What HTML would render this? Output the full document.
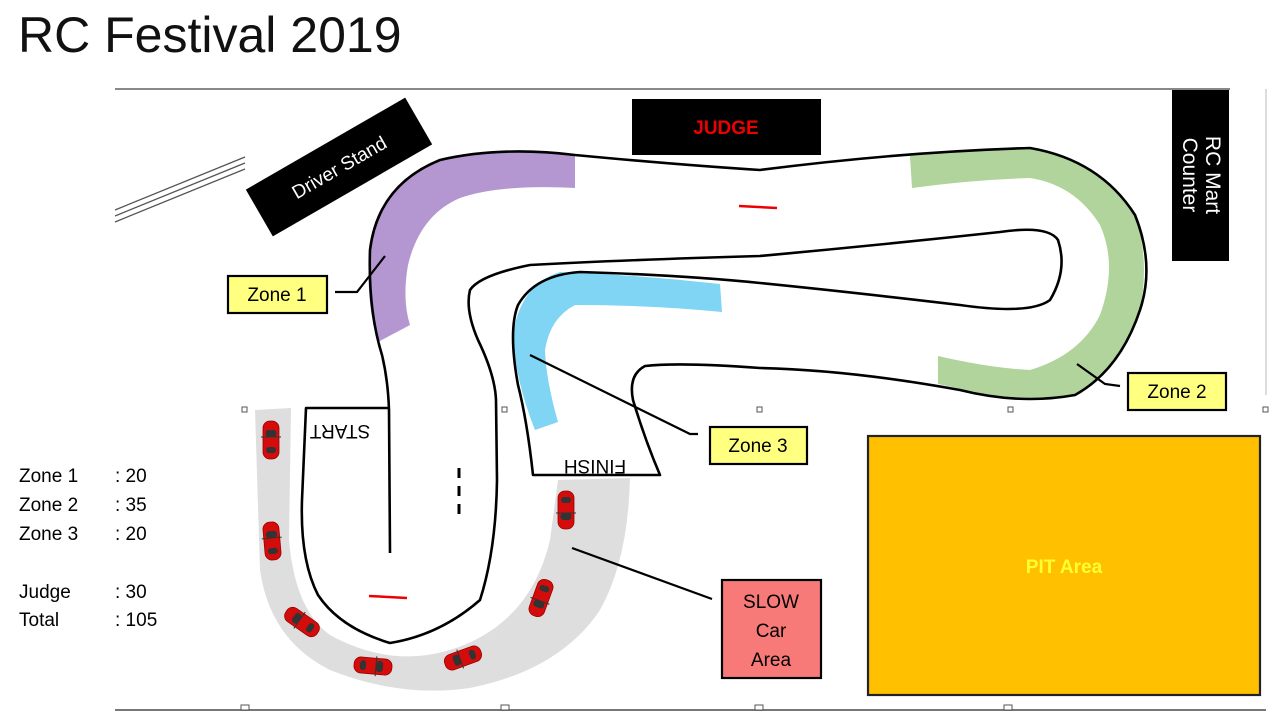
<!DOCTYPE html>
<html><head><meta charset="utf-8"><style>
html,body{margin:0;padding:0;background:#fff;}
svg{display:block;font-family:"Liberation Sans",sans-serif;}
</style></head><body>
<svg width="1280" height="720" viewBox="0 0 1280 720" xmlns="http://www.w3.org/2000/svg">
<text x="18" y="52" font-size="50" fill="#111">RC Festival 2019</text>
<!-- frame -->
<line x1="115" y1="89" x2="1230" y2="89" stroke="#888" stroke-width="2"/>
<line x1="1266" y1="89" x2="1266" y2="395" stroke="#bbb" stroke-width="1"/>
<line x1="115" y1="710" x2="1266" y2="710" stroke="#777" stroke-width="2"/>
<g fill="#fff" stroke="#555" stroke-width="1">
<rect x="242" y="407" width="5" height="5"/><rect x="502" y="407" width="5" height="5"/><rect x="757" y="407" width="5" height="5"/><rect x="1008" y="407" width="5" height="5"/><rect x="1263" y="407" width="5" height="5"/>
<rect x="241" y="705" width="8" height="5"/><rect x="501" y="705" width="8" height="5"/><rect x="755" y="705" width="8" height="5"/><rect x="1004" y="705" width="8" height="5"/>
</g>
<!-- triple lines -->
<g stroke="#555" stroke-width="1.3">
<line x1="115" y1="210" x2="245" y2="157"/><line x1="115" y1="216" x2="245" y2="163"/><line x1="115" y1="222" x2="245" y2="169"/>
</g>
<!-- slow area -->
<path d="M255,410 L291,408 L289,540 Q295,610 330,635 Q390,668 450,650 Q530,625 550,540 L558,480 L630,478 Q628,560 600,610 Q560,670 470,688 Q400,698 330,670 Q270,640 260,570 Z" fill="#dedede"/>
<!-- zones -->
<path d="M378,342 Q365,300 370,250 Q380,185 440,160 Q500,148 575,155 L575,188 Q500,184 460,198 Q420,215 408,265 Q402,300 410,325 Z" fill="#b497d0"/>
<path d="M910,156 Q970,150 1030,148 Q1100,160 1135,215 Q1150,260 1140,310 Q1120,370 1075,395 Q1020,405 980,393 L938,384 L938,356 Q990,368 1030,370 Q1080,355 1100,315 Q1118,265 1100,225 Q1075,185 1030,178 Q970,180 912,188 Z" fill="#b0d49c"/>
<path d="M720,284 Q640,275 560,272 Q520,285 513,335 Q515,380 535,430 L558,422 Q546,380 545,350 Q550,318 575,305 Q650,305 722,312 Z" fill="#80d4f4"/>
<!-- track lines -->
<g fill="none" stroke="#000" stroke-width="2.6" stroke-linejoin="round">
<path d="M390,553 L389,410 Q388,380 382,355 Q368,310 370,250 Q378,185 440,160 Q500,146 575,155 Q680,165 760,170 Q900,152 1030,148 Q1100,160 1135,215 Q1155,265 1140,310 Q1120,370 1075,395 Q1020,405 960,390 Q850,370 760,368 Q680,362 645,366 Q628,375 633,400 Q645,440 660,475 L533,475 Q527,420 518,385 Q508,330 518,305 Q535,275 580,272 Q680,275 760,283 Q850,292 960,305 Q1030,315 1050,300 Q1068,270 1058,240 Q1048,225 1000,232 Q880,245 760,256 Q620,260 530,265 Q480,275 470,290 Q465,310 478,340 Q495,375 496,400 L497,480 Q496,550 480,600 Q440,635 390,643 Q340,628 318,595 Q300,560 302,500 L306,408 L388,408"/>
</g>
<text x="340" y="418" font-size="19" transform="rotate(180 340 424)" text-anchor="middle" dominant-baseline="middle">START</text>
<text x="595" y="453" font-size="19" transform="rotate(180 595 459)" text-anchor="middle" dominant-baseline="middle">FINISH</text>
<!-- dashes -->
<line x1="739" y1="206" x2="777" y2="208" stroke="#e00" stroke-width="2.5"/>
<line x1="369" y1="596" x2="407" y2="598" stroke="#e00" stroke-width="2.5"/>
<line x1="459" y1="468" x2="459" y2="520" stroke="#000" stroke-width="3" stroke-dasharray="10,8"/>
<!-- cars -->
<defs><g id="car"><rect x="-8" y="-19" width="16" height="38" rx="7" fill="#d40c0c" stroke="#9a0000" stroke-width="0.8"/><rect x="-5.5" y="-10" width="11" height="7" rx="3" fill="#333"/><rect x="-5" y="7" width="10" height="6" rx="3" fill="#333"/><line x1="-10" y1="-3" x2="10" y2="-3" stroke="#333" stroke-width="1"/></g></defs>
<use href="#car" transform="translate(271,440)"/>
<use href="#car" transform="translate(272,541) rotate(-5)"/>
<use href="#car" transform="translate(302,622) rotate(-55)"/>
<use href="#car" transform="translate(373,666) rotate(95)"/>
<use href="#car" transform="translate(463,658) rotate(-110)"/>
<use href="#car" transform="translate(541,598) rotate(-160)"/>
<use href="#car" transform="translate(566,510) rotate(180)"/>
<!-- buildings -->
<g transform="translate(339,167) rotate(-30)"><rect x="-92" y="-27" width="184" height="54" fill="#000"/><text x="0" y="7" fill="#fff" font-size="19" text-anchor="middle">Driver Stand</text></g>
<rect x="632" y="99" width="189" height="56" fill="#000"/>
<text x="726" y="134" fill="#e00" font-size="19" font-weight="bold" text-anchor="middle">JUDGE</text>
<rect x="1172" y="90" width="57" height="171" fill="#000"/>
<g transform="translate(1200,175) rotate(90)" fill="#fff" font-size="21" text-anchor="middle"><text x="0" y="-6">RC Mart</text><text x="0" y="17">Counter</text></g>
<!-- callouts -->
<g fill="none" stroke="#000" stroke-width="2.2">
<polyline points="335,292 357,292 385,256"/>
<polyline points="1120,386 1105,384 1077,364"/>
<polyline points="698,434 690,434 530,355"/>
<polyline points="712,599 572,548"/>
</g>
<g stroke="#000" stroke-width="2.2" fill="#ffff80">
<rect x="228" y="276" width="99" height="37"/>
<rect x="1128" y="373" width="98" height="37"/>
<rect x="710" y="427" width="97" height="37"/>
</g>
<g font-size="19" text-anchor="middle"><text x="277" y="301">Zone 1</text><text x="1177" y="398">Zone 2</text><text x="758" y="452">Zone 3</text></g>
<rect x="722" y="580" width="99" height="98" fill="#f87a78" stroke="#000" stroke-width="2.2"/>
<g font-size="19" text-anchor="middle"><text x="771" y="608">SLOW</text><text x="771" y="637">Car</text><text x="771" y="666">Area</text></g>
<rect x="868" y="436" width="392" height="259" fill="#ffc000" stroke="#222" stroke-width="2.2"/>
<text x="1064" y="573" fill="#ffff30" font-size="19" font-weight="bold" text-anchor="middle">PIT Area</text>
<!-- scores -->
<g font-size="19" fill="#000">
<text x="19" y="482">Zone 1</text><text x="115" y="482">: 20</text>
<text x="19" y="511">Zone 2</text><text x="115" y="511">: 35</text>
<text x="19" y="540">Zone 3</text><text x="115" y="540">: 20</text>
<text x="19" y="598">Judge</text><text x="115" y="598">: 30</text>
<text x="19" y="626">Total</text><text x="115" y="626">: 105</text>
</g>
</svg>
</body></html>
